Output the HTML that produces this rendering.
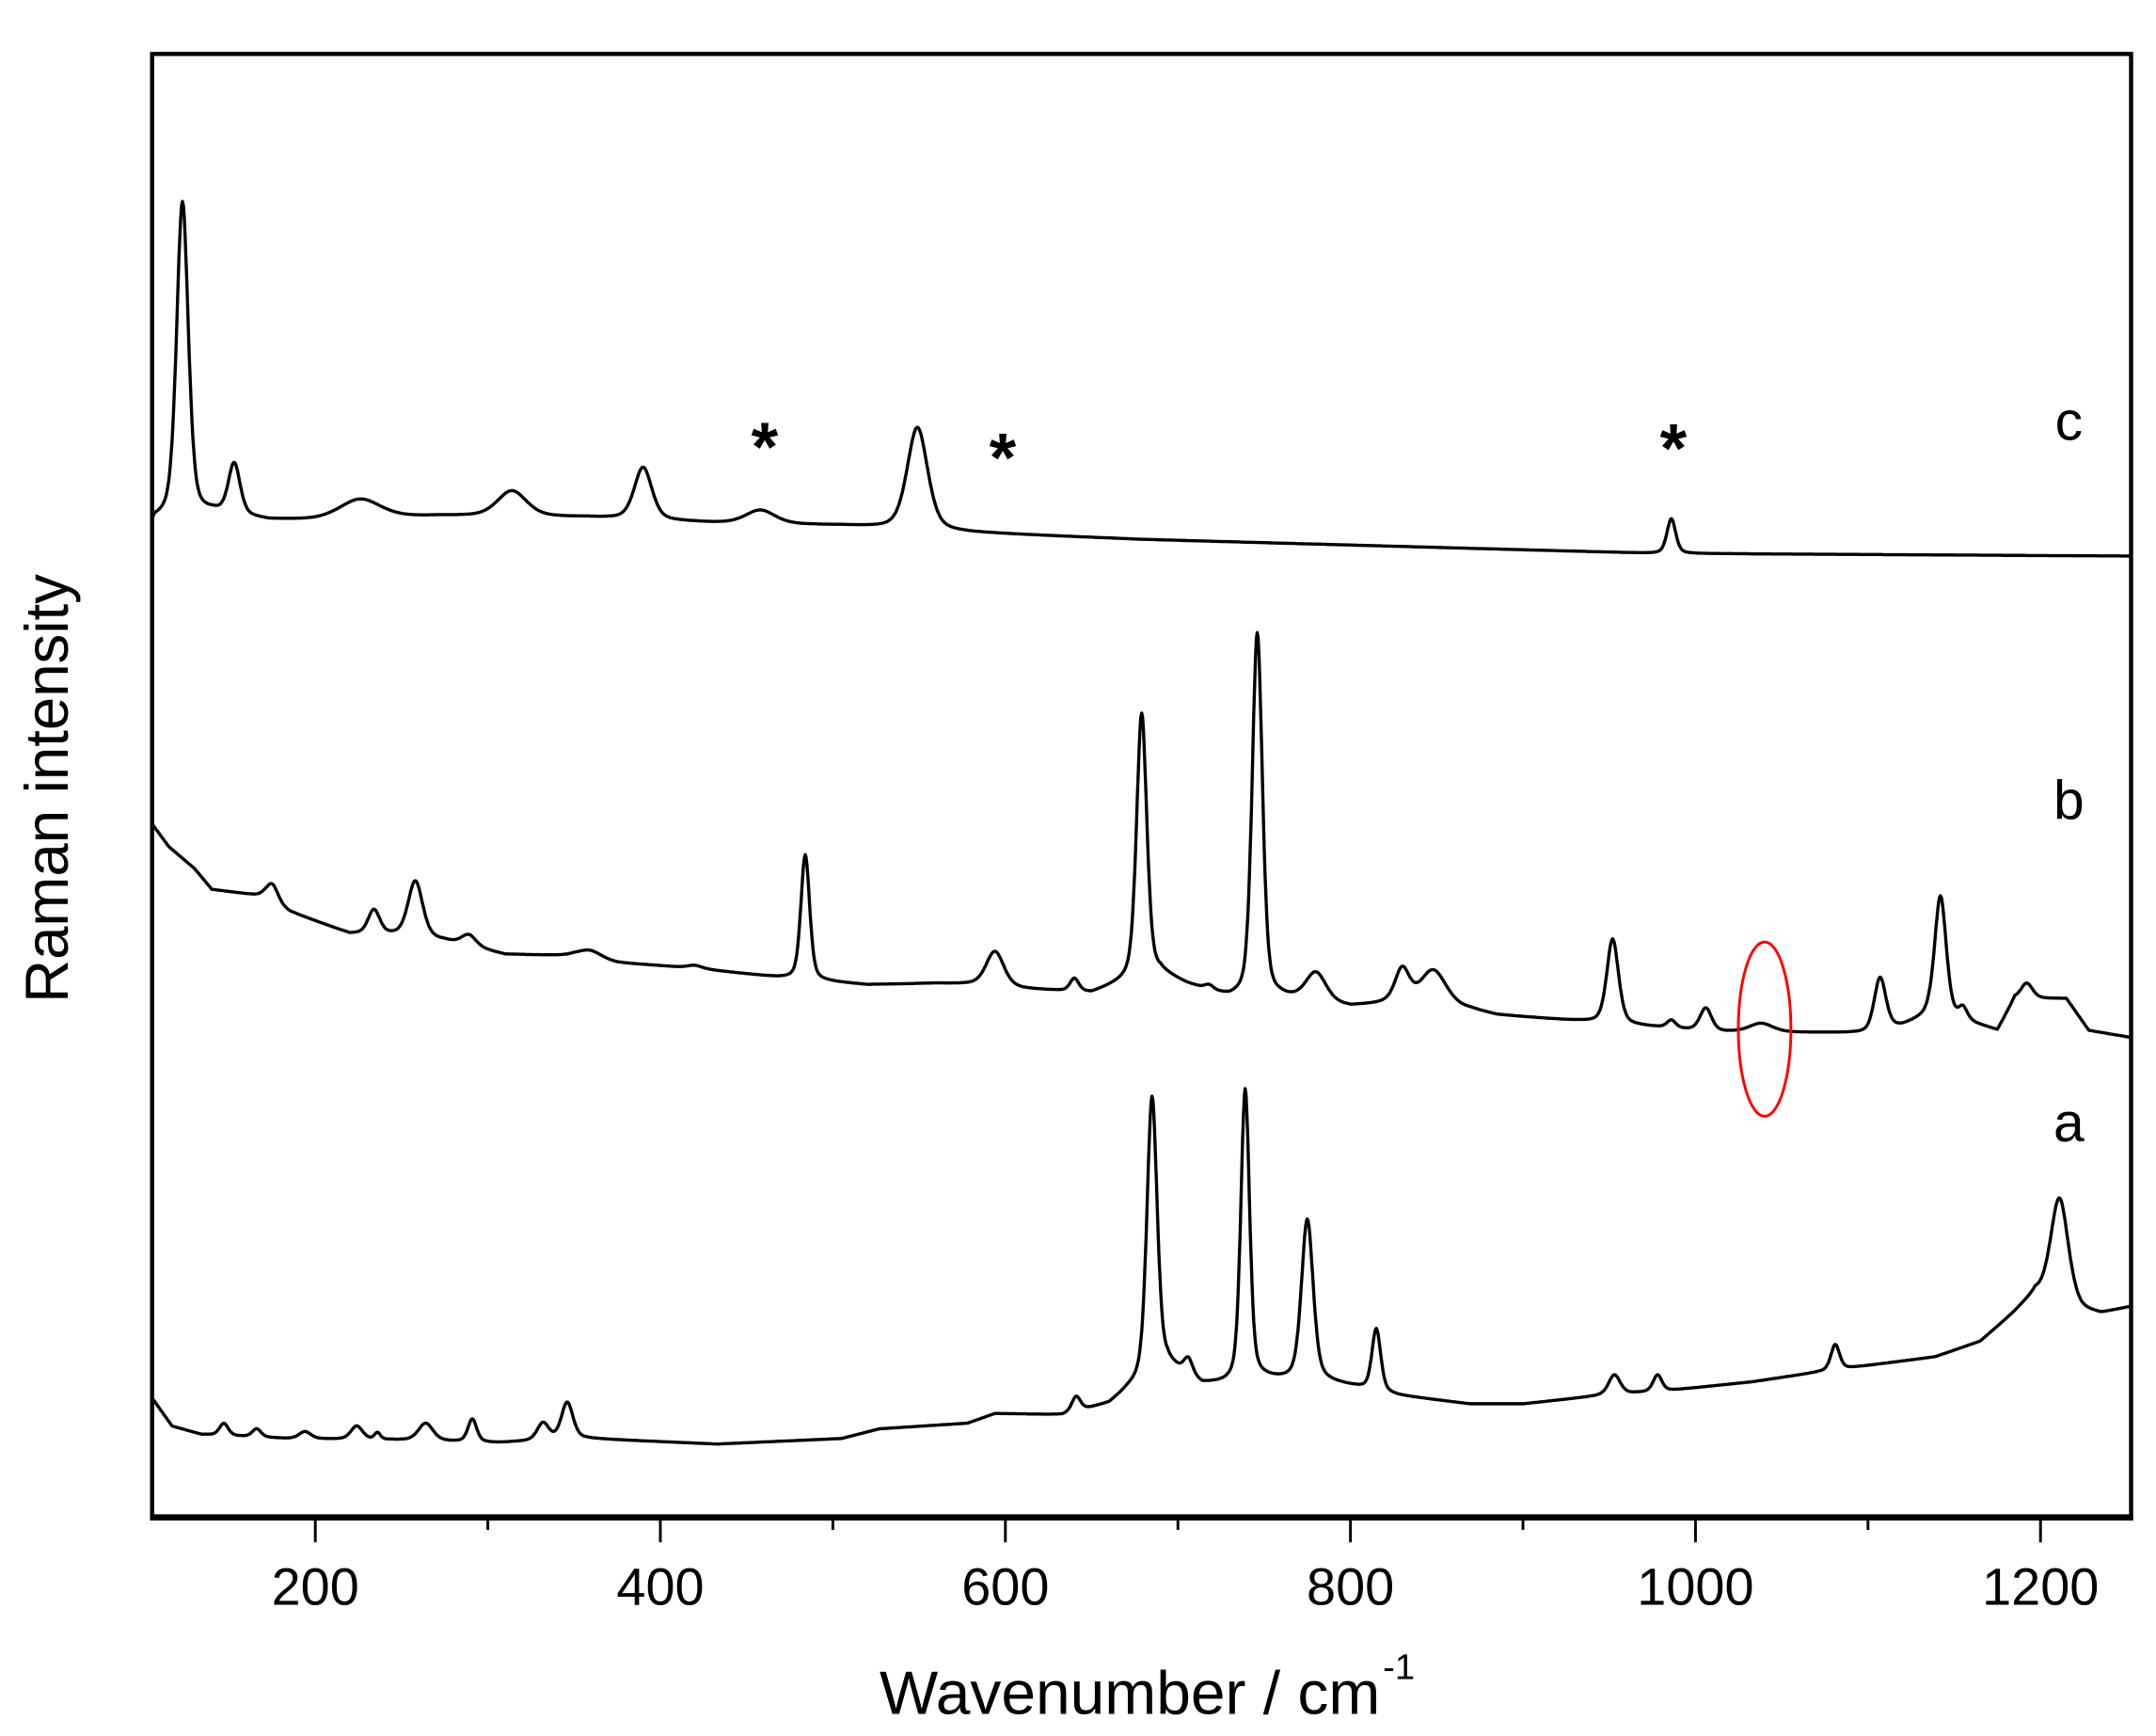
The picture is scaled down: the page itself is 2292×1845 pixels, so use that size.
<!DOCTYPE html>
<html><head><meta charset="utf-8"><style>
html,body{margin:0;padding:0;background:#fff;}
svg{display:block;}
text{font-family:"Liberation Sans",Arial,sans-serif;fill:#000;}
</style></head><body>
<svg id="s" width="2292" height="1845" viewBox="0 0 1559 1255" preserveAspectRatio="none" xmlns="http://www.w3.org/2000/svg">
<rect x="0" y="0" width="1559" height="1255" fill="#fff"/>
<g id="curves" fill="none" stroke="#000" stroke-width="2.3" stroke-linejoin="round"></g>
<rect x="110" y="39" width="1431" height="1058" fill="none" stroke="#000" stroke-width="3"/>
<line x1="108.5" y1="1097" x2="1542.5" y2="1097" stroke="#000" stroke-width="4.5"/>
<g id="ticks" stroke="#000" stroke-width="2"></g>
<g font-size="38" text-anchor="middle">
<text x="228" y="1160">200</text><text x="477.5" y="1160">400</text><text x="727" y="1160">600</text>
<text x="976.5" y="1160">800</text><text x="1226" y="1160">1000</text><text x="1475.5" y="1160">1200</text>
</g>
<text x="636" y="1239" font-size="44" textLength="362" lengthAdjust="spacingAndGlyphs">Wavenumber / cm</text>
<text x="1000" y="1214" font-size="26">-1</text>
<text transform="translate(49,570) rotate(-90)" font-size="44" text-anchor="middle" textLength="310" lengthAdjust="spacingAndGlyphs">Raman intensity</text>
<g font-size="40" text-anchor="middle">
<text x="1496" y="318">c</text><text x="1496" y="592">b</text><text x="1496" y="825">a</text>
</g>
<g font-size="50" font-weight="bold" text-anchor="middle">
<text x="553" y="340">*</text><text x="725" y="348">*</text><text x="1210" y="341">*</text>
</g>
<ellipse cx="1276" cy="744" rx="19" ry="63" fill="none" stroke="#f00" stroke-width="2"/>
</svg>
<script>
var X=function(v){return 228+(v-200)*1.2475;};
function interp(b,v){if(v<=b[0][0])return b[0][1];for(var i=1;i<b.length;i++){if(v<=b[i][0]){var t=(v-b[i-1][0])/(b[i][0]-b[i-1][0]);return b[i-1][1]+t*(b[i][1]-b[i-1][1]);}}return b[b.length-1][1];}
function curve(base,peaks){var pts=[];for(var v=105;v<=1252;v+=0.5){var y=interp(base,v);for(var k=0;k<peaks.length;k++){var p=peaks[k];var a=interp(base,p[0])-p[1];var d=(v-p[0])/p[2];var g=Math.exp(-0.693*d*d),l=1/(1+d*d);y-=a*(0.6*g+0.4*l);}pts.push(X(v).toFixed(1)+","+y.toFixed(1));}return "M"+pts.join("L");}
var cB=[[105,380],[107,376],[141,371],[173,376],[200,376],[272,373],[357,374],[431,378],[505,380],[578,385],[680,390],[975,400],[1252,402]];
var cP=[[123,146,4],[153,336,4],[226,361,14],[314,355,10],[390,338,6],[458,369,10],[549,309,7],[986,375,3]];
var bB=[[105,595],[115,612],[130,628],[140,643],[170,648],[185,659],[220,675],[245,676],[275,680],[310,690],[350,691],[375,696],[420,700],[470,707],[520,712],[560,711],[590,712],[610,715],[650,718],[670,710],[690,704],[705,712],[730,722],[760,722],[800,728],[820,726],[870,730],[885,734],[940,739],[990,744],[1010,746],[1100,747],[1120,742],[1135,735],[1160,740],[1175,745],[1185,722],[1215,722],[1228,745],[1252,750]];
var bP=[[175,639,4],[234,658,4],[258,637,5],[289,676,5],[359,687,8],[420,698,5],[484,618,3],[594,688,6],[640,708,3],[679,516,3.5],[718,714,3],[746,458,3.5],[780,704,7],[830,702,5],[848,702,9],[952,679,4],[986,738,3],[1006,729,4],[1038,740,8],[1107,707,4],[1142,648,4],[1155,730,3],[1192,711,4]];
var aB=[[105,1010],[117,1031],[134,1037],[184,1040],[246,1041],[306,1043],[357,1040],[433,1044],[505,1040],[527,1033],[578,1029],[594,1022],[633,1023],[660,1015],[671,1005],[694,987],[714,1001],[727,1001],[747,997],[759,998],[785,999],[804,1003],[828,1009],[869,1015],[900,1015],[945,1009],[987,1005],[1033,999],[1071,992],[1089,989],[1139,981],[1165,970],[1184,950],[1197,935],[1224,948],[1235,950],[1252,945]];
var aP=[[147,1029,3],[166,1033,3],[194,1035,4],[224,1031,4],[236,1036,2],[264,1029,5],[291,1026,3],[332,1029,4],[346,1014,4],[641,1010,3],[685,793,3.5],[706,984,3],[739,788,3],[775,882,4],[815,961,3],[953,994,4],[978,994,3],[1081,972,3],[1211,866,6]];
var ns="http://www.w3.org/2000/svg";var g=document.getElementById("curves");
[[cB,cP],[bB,bP],[aB,aP]].forEach(function(c){var p=document.createElementNS(ns,"path");p.setAttribute("d",curve(c[0],c[1]));g.appendChild(p);});
var t=document.getElementById("ticks");
for(var v=200;v<=1200;v+=100){var l=document.createElementNS(ns,"line");var x=X(v);l.setAttribute("x1",x);l.setAttribute("x2",x);l.setAttribute("y1",1097);l.setAttribute("y2",(v%200==0)?1115:1106);t.appendChild(l);}
</script>
</body></html>
